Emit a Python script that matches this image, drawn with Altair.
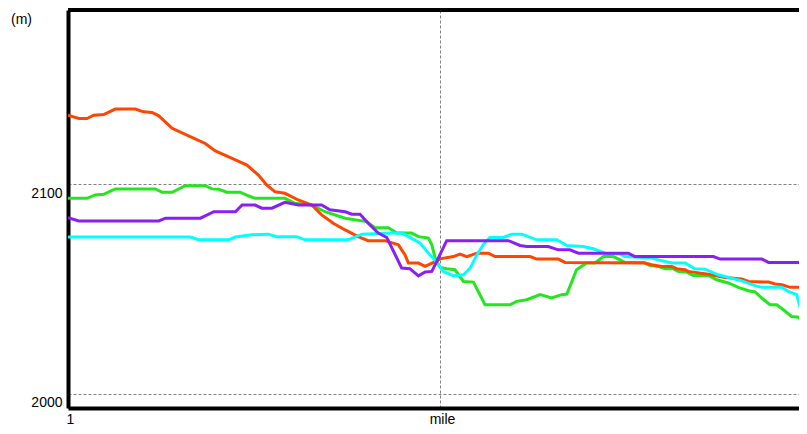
import altair as alt
import pandas as pd

# distance along route (hundredths of a mile, "mile" mark at 100) and elevation (m)
orange_dist = [0, 2.9, 5.1, 6.9, 9.6, 12.7, 18.1, 20.3, 22.6, 24.4, 28.0, 32.4, 36.9, 39.6, 44.1, 48.1,
               51.2, 53.4, 55.6, 58.3, 61.9, 65.5, 68.2, 71.3, 74.5, 78.0, 80.7, 85.2, 88.8, 90.6, 91.5,
               94.2, 96.0, 98.7, 100, 103.6, 105.4, 107.2, 109.9, 113.0, 114.8, 124.2, 126.0, 131.8, 133.6,
               155.1, 156.9, 159.6, 162.3, 163.6, 165.9, 166.7, 172.1, 173.9, 176.6, 181.1, 182.9, 188.3,
               190.1, 191.9, 194.1, 198.7]
orange_elev = [2133.1, 2131.5, 2131.5, 2133.1, 2133.4, 2136.0, 2136.0, 2134.7, 2134.4, 2132.8, 2126.8, 2123.2,
               2119.6, 2116.0, 2112.5, 2109.3, 2104.5, 2099.8, 2096.6, 2095.8, 2092.6, 2090.2, 2085.5, 2081.5,
               2078.3, 2075.1, 2073.2, 2073.2, 2071.2, 2066.4, 2062.5, 2062.5, 2060.9, 2063.2, 2064.5, 2065.6,
               2066.8, 2065.6, 2067.2, 2067.2, 2065.6, 2065.6, 2064.4, 2064.4, 2062.8, 2062.5, 2061.7, 2060.9,
               2060.9, 2059.8, 2059.3, 2058.5, 2057.2, 2056.6, 2055.6, 2054.9, 2053.7, 2053.4, 2052.5, 2052.1,
               2050.9, 2050.9]

green_dist = [0, 5.1, 7.3, 9.6, 12.7, 23.5, 25.3, 28.0, 31.5, 36.9, 38.7, 40.5, 42.7, 46.3, 48.6, 50.3,
              58.3, 61.0, 65.5, 69.1, 74.5, 80.3, 82.5, 86.1, 88.4, 92.4, 94.2, 96.9, 97.8, 98.7, 100,
              101.8, 104.0, 106.3, 109.0, 112.1, 118.8, 120.6, 123.3, 126.9, 130.0, 132.7, 134.1, 136.7,
              139.4, 141.7, 143.9, 146.6, 148.4, 149.7, 154.7, 156.5, 158.7, 160.5, 162.7, 164.1, 166.3,
              168.1, 172.1, 174.4, 177.5, 180.2, 182.9, 184.7, 186.5, 188.7, 190.5, 192.3, 194.5, 196.3, 198.7]
green_elev = [2093.4, 2093.4, 2095.0, 2095.3, 2097.9, 2097.9, 2096.3, 2096.3, 2099.4, 2099.4, 2097.9, 2097.7,
              2096.3, 2096.3, 2094.5, 2093.4, 2093.4, 2091.0, 2090.2, 2087.0, 2083.9, 2082.3, 2079.4, 2079.4,
              2076.8, 2076.8, 2075.1, 2074.4, 2071.2, 2064.9, 2060.4, 2059.8, 2059.3, 2053.7, 2053.4, 2042.6,
              2042.6, 2044.2, 2045.0, 2047.4, 2045.8, 2047.4, 2047.7, 2059.3, 2062.5, 2062.5, 2065.6, 2065.6,
              2064.0, 2062.8, 2062.8, 2061.3, 2060.9, 2059.8, 2059.8, 2058.5, 2058.2, 2056.6, 2056.6, 2054.5,
              2053.0, 2050.9, 2049.3, 2048.7, 2045.8, 2042.6, 2042.6, 2040.2, 2037.0, 2036.6, 2033.4]

purple_dist = [0, 2.9, 24.4, 26.2, 35.6, 39.2, 45.0, 46.8, 50.3, 52.1, 54.8, 58.3, 61.9, 68.2, 70.4, 74.5,
               76.3, 78.5, 80.7, 83.4, 85.7, 89.7, 91.9, 94.2, 96.0, 97.8, 99.1, 101.8, 118.4, 121.5, 123.3,
               129.1, 131.8, 134.9, 137.2, 150.6, 152.4, 173.5, 175.3, 186.5, 188.3, 198.7]
purple_elev = [2084.2, 2082.6, 2082.6, 2083.9, 2083.9, 2087.0, 2087.0, 2090.2, 2090.2, 2088.7, 2088.7, 2091.5,
               2090.2, 2090.2, 2087.9, 2087.0, 2085.8, 2085.8, 2081.5, 2076.8, 2074.7, 2060.1, 2059.8, 2056.4,
               2058.2, 2058.5, 2063.2, 2073.2, 2073.2, 2070.9, 2070.4, 2070.4, 2068.8, 2068.8, 2067.2, 2067.2,
               2065.6, 2065.6, 2064.4, 2064.4, 2062.8, 2062.8]

cyan_dist = [0, 32.9, 35.1, 43.2, 45.0, 49.4, 53.8, 56.1, 61.5, 63.7, 75.3, 79.0, 87.0, 89.8, 94.6, 97.3,
             99.2, 100.9, 103.6, 106.3, 108.1, 109.9, 111.6, 113.4, 117.0, 119.3, 122.0, 126.0, 131.4, 134.1,
             138.5, 141.2, 144.4, 148.4, 149.7, 156.9, 158.7, 162.3, 165.9, 168.5, 171.2, 174.8, 176.6, 181.1,
             184.7, 186.5, 191.9, 193.6, 195.9, 197.2, 198.7]
cyan_elev = [2074.9, 2074.9, 2073.6, 2073.6, 2074.9, 2076.0, 2076.3, 2075.1, 2075.1, 2073.6, 2073.6, 2076.3,
             2076.8, 2076.8, 2072.1, 2066.4, 2062.6, 2058.5, 2056.4, 2056.9, 2060.1, 2066.4, 2071.2, 2074.7,
             2074.7, 2076.3, 2076.3, 2073.6, 2073.6, 2070.9, 2070.4, 2069.3, 2067.2, 2066.8, 2065.6, 2064.9,
             2064.0, 2062.5, 2062.5, 2059.8, 2059.6, 2056.9, 2056.1, 2054.0, 2051.7, 2050.9, 2050.9, 2049.0,
             2047.4, 2038.7, 2037.0]

series_names = ["green", "orange", "cyan", "purple"]
series_colors = ["#22e61e", "#ff4500", "#00ffff", "#8a1ef5"]
series_data = {
    "green": (green_dist, green_elev),
    "orange": (orange_dist, orange_elev),
    "cyan": (cyan_dist, cyan_elev),
    "purple": (purple_dist, purple_elev),
}

rows = []
for name in series_names:
    xs, ys = series_data[name]
    for i, (x, y) in enumerate(zip(xs, ys)):
        rows.append({"series": name, "dist": x, "elev": y, "idx": i})
df = pd.DataFrame(rows)

W, H = 731, 398
FONT = "Liberation Sans"

xscale = alt.Scale(domain=[0, 196.5], nice=False, zero=False)
yscale = alt.Scale(domain=[1993.3, 2183.3], nice=False, zero=False)
cscale = alt.Scale(domain=series_names, range=series_colors)

xaxis = alt.Axis(values=[0, 100], labelExpr="datum.value == 0 ? '1' : 'mile'", title=None,
                 ticks=False, tickSize=0, grid=True, gridDash=[3, 2], gridColor="#808080", gridWidth=1,
                 domainColor="black", domainWidth=4, labelFontSize=14, labelPadding=4, labelOffset=2,
                 labelColor="black", labelFont=FONT, labelFlush=False)
yaxis = alt.Axis(values=[2000, 2100], format="d", title="(m)", titleAngle=0, titleX=-47, titleY=9,
                 titleAlign="center", titleBaseline="middle", titleFontSize=14, titleFontWeight="normal",
                 titleFont=FONT, titleColor="black",
                 ticks=False, tickSize=0, grid=True, gridDash=[3, 2], gridColor="#808080", gridWidth=1,
                 domainColor="black", domainWidth=4, labelFontSize=14, labelPadding=6,
                 labelBaseline="top", labelOffset=2, labelColor="black", labelFont=FONT, labelFlush=False)

layers = []
for name in series_names:
    layers.append(
        alt.Chart(df).transform_filter(alt.datum.series == name)
        .mark_line(strokeWidth=3, interpolate="linear", clip=True)
        .encode(
            x=alt.X("dist:Q", scale=xscale, axis=xaxis),
            y=alt.Y("elev:Q", scale=yscale, axis=yaxis),
            color=alt.Color("series:N", scale=cscale, legend=None),
            order="idx:Q",
        )
    )

top_border = alt.Chart(pd.DataFrame({"a": [0]})).mark_rule(color="black", strokeWidth=4).encode(
    x=alt.value(0), x2=alt.value(W), y=alt.value(0)
)

chart = alt.layer(*layers, top_border).properties(
    width=W, height=H,
    padding={"left": 60, "top": 2, "right": 0, "bottom": 18},
    autosize=alt.AutoSizeParams(type="none"),
    background="white",
).configure_view(stroke=None)

chart.save("out.html", embed_options={"renderer": "svg", "actions": False})
